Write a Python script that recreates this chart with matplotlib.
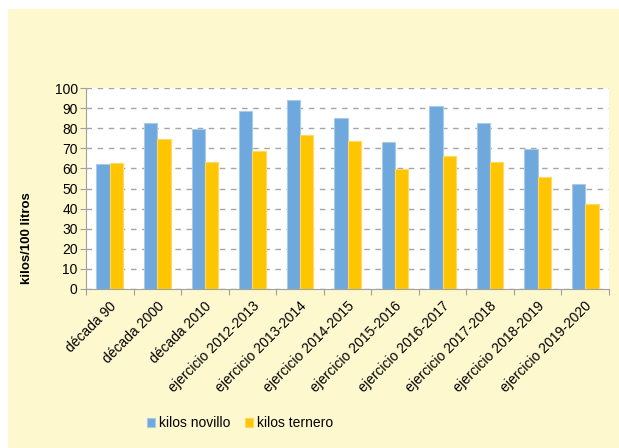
import numpy as np
import matplotlib.pyplot as plt
import matplotlib.transforms as mtransforms
from matplotlib.patches import Rectangle

plt.rcParams['font.family'] = ['Liberation Sans', 'DejaVu Sans']

categorias = ['década 90', 'década 2000', 'década 2010',
              'ejercicio 2012-2013', 'ejercicio 2013-2014', 'ejercicio 2014-2015',
              'ejercicio 2015-2016', 'ejercicio 2016-2017', 'ejercicio 2017-2018',
              'ejercicio 2018-2019', 'ejercicio 2019-2020']
kilos_novillo = [62, 82.8, 79.6, 88.7, 93.9, 84.9, 73.3, 91.0, 82.5, 69.6, 52.3]
kilos_ternero = [62.9, 74.8, 63.2, 68.7, 76.6, 73.8, 59.7, 66.3, 63.4, 55.9, 42.1]
y_ticks = list(range(0, 101, 10))

W, H = 619, 448
fig = plt.figure(figsize=(W / 100, H / 100), dpi=100)
fig.patch.set_facecolor('white')

# fondo amarillo del cuadro
fig.patches.append(Rectangle((8 / W, 0), 1 - 8 / W, (H - 9) / H, transform=fig.transFigure,
                             facecolor='#FEF8CE', edgecolor='none', zorder=-10))

ax = fig.add_axes([86 / W, (H - 289) / H, (609 - 86) / W, (289 - 88) / H])
ax.set_facecolor('white')

x = np.arange(len(categorias))
w = 0.28
ax.bar(x - w / 2, kilos_novillo, w, color='#6FA8DC', edgecolor='#A9CBEA', linewidth=0.8,
       label='kilos novillo', zorder=3)
ax.bar(x + w / 2, kilos_ternero, w, color='#FFC600', edgecolor='#FFD866', linewidth=0.8,
       label='kilos ternero', zorder=3)

ax.set_xlim(-0.5, len(categorias) - 0.5)
ax.set_ylim(0, 100)
ax.set_yticks(y_ticks)
ax.tick_params(axis='y', labelsize=10, length=4, color='#A0A0A0', pad=2)
ax.yaxis.grid(True, linestyle=(0, (4, 4)), color='#A6A6A6', linewidth=1.0, zorder=0)

ax.set_xticks(np.arange(len(categorias) + 1) - 0.5)
ax.set_xticklabels([])
ax.tick_params(axis='x', length=4, color='#A0A0A0')
ax.set_xticks(x, minor=True)
ax.set_xticklabels(categorias, minor=True, rotation=45, ha='right', va='center',
                   rotation_mode='anchor', fontsize=10)
ax.tick_params(axis='x', which='minor', length=0, pad=11)
# leve corrimiento a la derecha de las etiquetas
desplaza = mtransforms.ScaledTranslation(0.045, 0, fig.dpi_scale_trans)
for lab in ax.get_xticklabels(minor=True):
    lab.set_transform(lab.get_transform() + desplaza)

for s in ['top', 'right']:
    ax.spines[s].set_visible(False)
for s in ['left', 'bottom']:
    ax.spines[s].set_color('#A0A0A0')

ax.set_ylabel('kilos/100 litros', fontsize=9.5, fontweight='bold')
ax.yaxis.set_label_coords(-0.101, 0.254)

fig.legend(loc='center', bbox_to_anchor=(240 / W, (H - 423) / H), ncol=2, frameon=False,
           fontsize=10, handlelength=0.6, handleheight=0.6, handletextpad=0.3,
           columnspacing=1.0)

fig.savefig('out.png', dpi=100)
